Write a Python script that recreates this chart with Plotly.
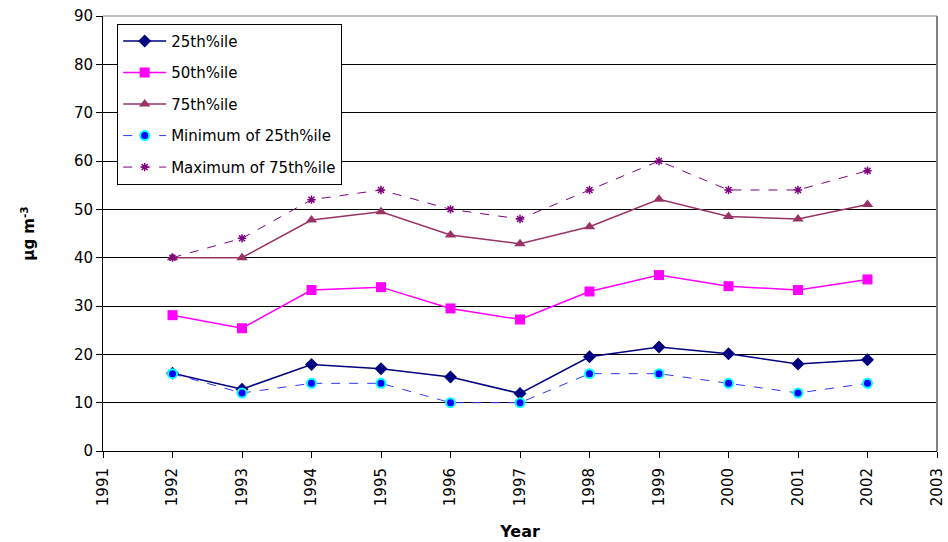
import plotly.graph_objects as go

years = [1992, 1993, 1994, 1995, 1996, 1997, 1998, 1999, 2000, 2001, 2002]
p25 = [16.1, 12.8, 17.9, 17.0, 15.3, 11.9, 19.5, 21.5, 20.1, 18.0, 18.9]
p50 = [28.1, 25.4, 33.3, 33.9, 29.5, 27.2, 33.0, 36.4, 34.1, 33.3, 35.5]
p75 = [40.0, 40.0, 47.8, 49.5, 44.7, 42.9, 46.4, 52.1, 48.5, 48.0, 51.0]
min25 = [16, 12, 14, 14, 10, 10, 16, 16, 14, 12, 14]
max75 = [40, 44, 52, 54, 50, 48, 54, 60, 54, 54, 58]

x_ticks = list(range(1991, 2004))
y_ticks = list(range(0, 91, 10))

font = "DejaVu Sans, Verdana, sans-serif"

fig = go.Figure()
fig.add_trace(go.Scatter(x=years, y=p25, name="25th%ile", mode="lines+markers", legendgroup="a",
                         line=dict(color="#000080", width=1.5),
                         marker=dict(symbol="diamond", size=10, color="#000080")))
fig.add_trace(go.Scatter(x=years, y=p50, name="50th%ile", mode="lines+markers", legendgroup="b",
                         line=dict(color="#FF00FF", width=1.5),
                         marker=dict(symbol="square", size=10, color="#FF00FF")))
fig.add_trace(go.Scatter(x=years, y=p75, name="75th%ile", mode="lines+markers", legendgroup="c",
                         line=dict(color="#993366", width=1.5),
                         marker=dict(symbol="triangle-up", size=10, color="#993366")))
fig.add_trace(go.Scatter(x=years, y=min25, name="Minimum of 25th%ile", mode="lines+markers", legendgroup="d",
                         line=dict(color="#3333FF", width=1, dash="dash"),
                         marker=dict(symbol="circle", size=9, color="#0000FF",
                                     line=dict(color="#00FFFF", width=2))))
fig.add_trace(go.Scatter(x=years, y=max75, name="Maximum of 75th%ile", mode="lines+markers", legendgroup="e",
                         line=dict(color="#800080", width=1, dash="dash"),
                         marker=dict(symbol="asterisk", size=7, color="#800080",
                                     line=dict(color="#800080", width=1.5))))

fig.update_layout(
    width=948, height=542,
    margin=dict(l=103, r=11, t=16, b=91),
    paper_bgcolor="white", plot_bgcolor="white",
    font=dict(family=font, size=15, color="black"),
    showlegend=True,
    legend=dict(x=0.017, y=0.982, xanchor="left", yanchor="top",
                bgcolor="white", bordercolor="black", borderwidth=1,
                font=dict(size=15), tracegroupgap=9, traceorder="grouped",
                itemwidth=43),
    xaxis=dict(range=[1991, 2003], tickvals=x_ticks, ticktext=[str(t) for t in x_ticks],
               tickangle=-90, ticks="outside", ticklen=6, tickcolor="black",
               ticklabelstandoff=4,
               showline=True, linecolor="black", linewidth=1, mirror=False,
               showgrid=False, zeroline=False, automargin=False,
               title=dict(text="<b>Year</b>", font=dict(size=16), standoff=20)),
    yaxis=dict(range=[0, 90], tickvals=y_ticks, ticks="outside", ticklen=6, tickcolor="black",
               showline=True, linecolor="black", linewidth=1, automargin=False,
               showgrid=True, gridcolor="black", gridwidth=1, zeroline=False,
               title=dict(text="<b>µg m<sup>-3</sup></b>", font=dict(size=15), standoff=35)),
)
# top and right plot border (gray)
fig.add_shape(type="line", xref="paper", yref="paper", x0=0, x1=1, y0=1, y1=1,
              line=dict(color="#808080", width=1))
fig.add_shape(type="line", xref="paper", yref="paper", x0=1, x1=1, y0=0, y1=1,
              line=dict(color="#808080", width=2))

fig.write_html("out.html", config={"displayModeBar": False},
               post_script="document.body.style.margin='0px';document.body.style.overflow='hidden';")
